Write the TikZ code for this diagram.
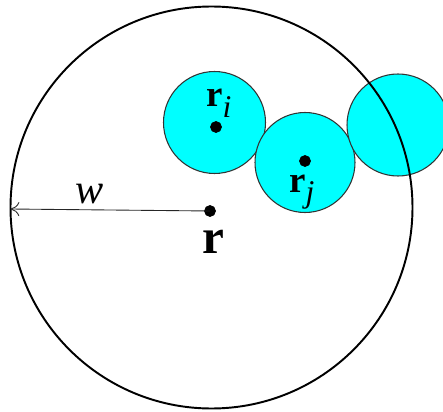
\documentclass[tikz,border=0pt]{standalone}
\usepackage{fontspec}
\setmainfont{Liberation Serif}
\usetikzlibrary{arrows.meta}
\definecolor{aqua}{RGB}{0,255,255}
\tikzset{
  bead/.style={draw=black!80, fill=aqua, line width=0.6pt},
  lbl/.style={inner sep=0pt, anchor=base west},
}
\newcommand{\sub}[2]{{\fontsize{#1}{#1}\selectfont\normalfont\itshape #2}}
\begin{document}
\begin{tikzpicture}
	\clip (0,0) rectangle (8.86,8.22);
	\coordinate (center) at (4.23,4.07);
	\coordinate (Ri) at (4.29,5.77);
	\coordinate (Rj) at (6.10,4.97);
	\coordinate (Rk) at (7.96,5.72);

    % the three beads
    \filldraw[bead] (Ri) circle (1.02);
    \filldraw[bead] (Rj) circle (1.0);
    \filldraw[bead] (Rk) circle (1.02);

    % the outer sphere
    \draw[line width=1.1pt] (center) circle (4.02);

    \filldraw (4.20,4.00) circle (0.11) coordinate (r);
    \filldraw (4.32,5.68) circle (0.11) coordinate (ri);
    \filldraw (6.10,5.00) circle (0.11) coordinate (rj);
    \coordinate (west) at (0.21,4.04);

% Draw the radius w
    \draw[line width=0.5pt, black!85, -{To[length=5pt,width=8pt]}] (r) -- (west);
    \node[lbl] (wlabel) at (1.50,4.16) {\fontsize{24}{24}\selectfont\itshape w};

    \node[lbl] (rlabel) at (4.04,3.16) {\fontsize{28}{28}\selectfont\bfseries r};
    \node[lbl] (rilabel) at (4.12,6.08) {\fontsize{21}{21}\selectfont\bfseries r\raisebox{-6pt}{\sub{18}{i}}};
    \node[lbl] (rjlabel) at (5.78,4.38) {\fontsize{21}{21}\selectfont\bfseries r\raisebox{-6pt}{\sub{18}{j}}};
\end{tikzpicture}
\end{document}
